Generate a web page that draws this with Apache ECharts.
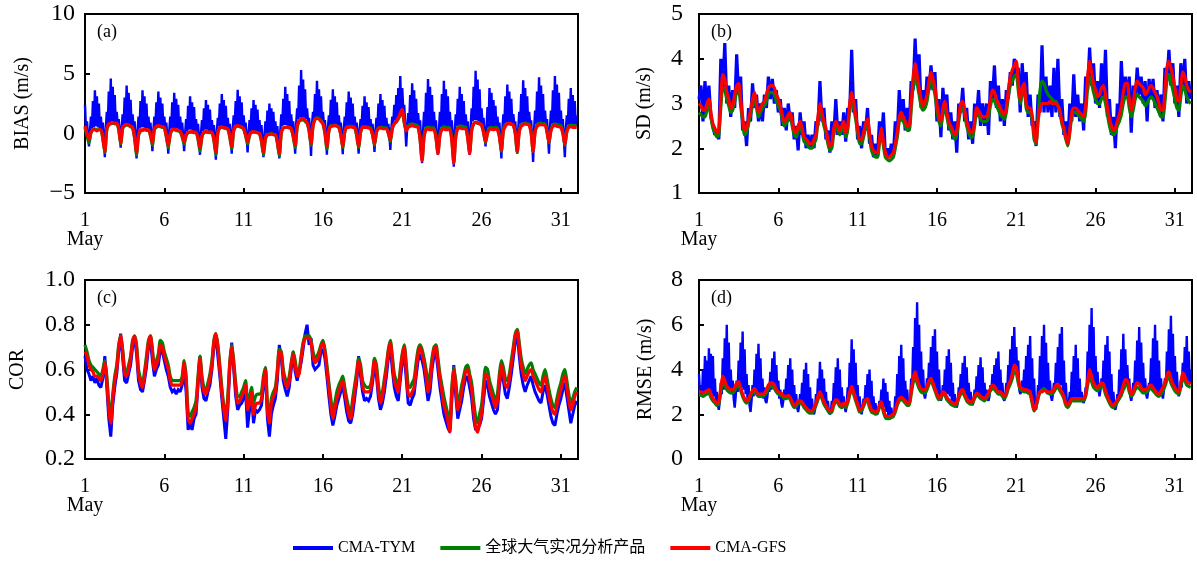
<!DOCTYPE html>
<html>
<head>
<meta charset="utf-8">
<script src="https://cdn.jsdelivr.net/npm/echarts@6/dist/echarts.min.js"></script>
<style>
html, body { margin: 0; padding: 0; background: #fff; }
#chart { width: 1197px; height: 562px; }
</style>
</head>
<body>
<div id="chart"></div>
<script>
// Verification statistics, 1 May 00 UTC .. 1 June 00 UTC.
// Most series: one row per day at 00, 03, ... 21 UTC (8 samples), last value is 1 June 00 UTC.
// CMA-TYM BIAS and RMSE: 1.5-hourly rows (16 samples per day).
const dayTicks = [1, 6, 11, 16, 21, 26, 31];
const seriesNames = ['CMA-TYM', '全球大气实况分析产品', 'CMA-GFS'];
const panelTags = ['(a)', '(b)', '(c)', '(d)'];
const panelNames = ['BIAS (m/s)', 'SD (m/s)', 'COR', 'RMSE (m/s)'];

// (a) BIAS
const biasTym = [
  2.4, 0.3, 1.0, -0.2, -1.1, 0.2, 1.4, 0.4, 2.7, 0.5, 3.6, 0.6, 3.1, 0.5, 2.5, 0.4,
  1.4, 0.3, 0.9, -0.4, -2.0, 0.4, 1.8, 0.8, 3.5, 0.9, 4.6, 1.0, 3.9, 0.9, 3.2, 0.8,
  1.8, 0.7, 1.2, 0.1, -1.2, 0.5, 1.6, 0.7, 3.0, 0.8, 4.0, 0.8, 3.4, 0.7, 2.8, 0.6,
  1.6, 0.5, 1.0, -0.4, -2.1, 0.2, 1.4, 0.4, 2.7, 0.5, 3.6, 0.5, 3.1, 0.4, 2.5, 0.4,
  1.4, 0.3, 0.9, -0.2, -1.5, 0.3, 1.4, 0.6, 2.6, 0.7, 3.5, 0.7, 3.0, 0.6, 2.5, 0.5,
  1.4, 0.4, 0.9, -0.3, -1.7, 0.2, 1.4, 0.4, 2.6, 0.4, 3.4, 0.4, 2.9, 0.4, 2.4, 0.3,
  1.4, 0.2, 0.9, -0.3, -1.5, 0.0, 1.2, 0.2, 2.3, 0.3, 3.1, 0.3, 2.6, 0.2, 2.2, 0.2,
  1.2, 0.1, 0.8, -0.4, -1.8, 0.0, 1.1, 0.2, 2.1, 0.3, 2.8, 0.3, 2.4, 0.2, 2.0, 0.2,
  1.1, 0.1, 0.7, -0.5, -2.2, 0.2, 1.3, 0.6, 2.5, 0.6, 3.3, 0.6, 2.8, 0.5, 2.3, 0.5,
  1.3, 0.3, 0.8, -0.3, -1.7, 0.4, 1.5, 0.7, 2.7, 0.7, 3.65, 0.7, 3.1, 0.6, 2.6, 0.5,
  1.5, 0.4, 0.9, -0.2, -1.6, 0.0, 1.1, 0.2, 2.1, 0.2, 2.8, 0.2, 2.4, 0.2, 2.0, 0.1,
  1.1, 0.0, 0.7, -0.6, -2.0, -0.2, 1.0, 0.0, 1.9, 0.0, 2.5, 0.0, 2.1, 0.0, 1.8, 0.0,
  1.0, -0.1, 0.6, -0.6, -2.1, 0.2, 1.6, 0.6, 2.9, 0.7, 3.9, 0.7, 3.3, 0.6, 2.7, 0.6,
  1.6, 0.4, 1.0, -0.3, -1.7, 0.8, 2.1, 1.2, 4.0, 1.3, 5.3, 1.3, 4.5, 1.3, 3.7, 1.2,
  2.1, 0.9, 1.3, 0.2, -1.9, 0.8, 1.8, 1.2, 3.3, 1.3, 4.4, 1.3, 3.7, 1.2, 3.1, 1.1,
  1.8, 0.8, 1.1, -0.1, -1.8, 0.4, 1.5, 0.7, 2.8, 0.7, 3.7, 0.7, 3.1, 0.7, 2.6, 0.6,
  1.5, 0.5, 0.9, -0.2, -1.75, 0.3, 1.4, 0.6, 2.6, 0.6, 3.5, 0.6, 3.0, 0.6, 2.5, 0.5,
  1.4, 0.4, 0.9, -0.2, -1.7, 0.3, 1.2, 0.6, 2.3, 0.6, 3.1, 0.6, 2.6, 0.5, 2.2, 0.5,
  1.2, 0.4, 0.8, -0.2, -1.55, 0.2, 1.3, 0.5, 2.5, 0.5, 3.3, 0.5, 2.8, 0.5, 2.3, 0.4,
  1.3, 0.3, 0.8, -0.1, -1.4, 0.4, 1.4, 0.9, 2.4, 1.1, 3.2, 1.3, 3.8, 1.6, 4.8, 1.9,
  3.8, 2.0, 2.4, 0.6, -1.1, 0.5, 1.7, 0.7, 3.2, 0.8, 4.2, 0.8, 3.6, 0.7, 2.9, 0.6,
  1.7, 0.5, 1.1, -0.6, -2.5, 0.2, 1.8, 0.5, 3.4, 0.6, 4.55, 0.6, 3.9, 0.5, 3.2, 0.5,
  1.8, 0.4, 1.1, -0.4, -1.8, 0.2, 1.8, 0.5, 3.3, 0.5, 4.4, 0.5, 3.7, 0.5, 3.1, 0.5,
  1.8, 0.4, 1.1, -0.6, -2.8, 0.2, 1.6, 0.6, 2.9, 0.6, 3.9, 0.6, 3.3, 0.6, 2.7, 0.5,
  1.6, 0.5, 1.0, -0.4, -1.8, 0.5, 2.1, 1.0, 3.9, 1.1, 5.25, 1.1, 4.5, 1.0, 3.7, 0.9,
  2.1, 0.8, 1.3, 0.0, -1.1, 0.4, 2.2, 0.5, 3.8, 0.5, 3.4, 0.4, 2.8, 0.4, 2.3, 0.4,
  1.4, 0.4, 0.9, -0.5, -2.1, 0.3, 1.6, 0.8, 3.1, 0.9, 4.1, 0.9, 3.5, 0.9, 2.9, 0.8,
  1.6, 0.8, 1.0, -0.3, -1.7, 0.3, 1.8, 0.8, 3.3, 0.9, 4.45, 0.9, 3.8, 0.9, 3.1, 0.8,
  1.8, 0.8, 1.1, -0.5, -2.4, 0.3, 1.9, 0.8, 3.5, 0.9, 4.7, 0.9, 4.0, 0.8, 3.3, 0.8,
  1.9, 0.8, 1.2, -0.2, -1.7, 0.4, 1.9, 0.8, 3.6, 0.8, 4.8, 0.8, 4.1, 0.7, 3.4, 0.7,
  1.9, 0.6, 1.2, -0.4, -2.0, 0.3, 1.5, 0.7, 2.9, 0.7, 3.8, 0.7, 3.2, 0.6, 2.7, 0.6,
  1.5
];
const biasAna = [
  0.5, -0.2, -0.8, 0.0, 0.3, 0.35, 0.3, 0.3,
  0.3, -0.5, -1.6, 0.3, 0.7, 0.8, 0.85, 0.8,
  0.8, 0.3, -0.9, 0.4, 0.6, 0.7, 0.65, 0.55,
  0.45, -0.4, -1.8, -0.2, 0.2, 0.25, 0.3, 0.25,
  0.25, -0.2, -1.0, 0.3, 0.5, 0.6, 0.55, 0.5,
  0.45, -0.3, -1.2, -0.1, 0.25, 0.3, 0.25, 0.2,
  0.15, -0.3, -0.9, -0.2, 0.05, 0.1, 0.1, 0.05,
  0.05, -0.5, -1.5, -0.3, 0.05, 0.1, 0.1, 0.05,
  0.05, -0.6, -1.8, 0.0, 0.45, 0.5, 0.45, 0.4,
  0.35, -0.3, -1.3, 0.2, 0.55, 0.6, 0.55, 0.5,
  0.35, -0.2, -0.9, -0.2, 0.1, 0.1, 0.1, 0.05,
  -0.05, -0.7, -1.8, -0.5, -0.1, -0.05, 0.0, -0.1,
  -0.1, -0.8, -1.9, 0.0, 0.45, 0.5, 0.5, 0.45,
  0.4, -0.3, -1.2, 0.5, 1.0, 1.1, 1.15, 1.0,
  0.85, 0.2, -1.0, 0.6, 1.2, 1.3, 1.25, 1.05,
  0.8, 0.0, -1.3, 0.2, 0.65, 0.65, 0.7, 0.65,
  0.55, -0.1, -1.2, 0.1, 0.55, 0.55, 0.6, 0.55,
  0.5, -0.2, -1.2, 0.1, 0.55, 0.55, 0.55, 0.5,
  0.45, -0.1, -1.0, 0.1, 0.45, 0.5, 0.5, 0.45,
  0.45, 0.0, -0.7, 0.4, 0.8, 0.95, 1.2, 1.5,
  1.7, 0.9, 0.2, 0.6, 0.75, 0.8, 0.75, 0.7,
  0.6, -0.5, -2.2, -0.2, 0.45, 0.5, 0.45, 0.45,
  0.45, -0.3, -1.6, -0.1, 0.45, 0.55, 0.5, 0.45,
  0.45, -0.5, -2.4, -0.2, 0.5, 0.6, 0.6, 0.55,
  0.5, -0.3, -1.6, 0.3, 0.8, 0.9, 0.85, 0.8,
  0.7, 0.1, -0.8, 0.1, 0.45, 0.5, 0.45, 0.5,
  0.45, -0.2, -1.5, 0.3, 0.7, 0.8, 0.8, 0.75,
  0.7, 0.0, -1.6, 0.2, 0.7, 0.8, 0.85, 0.8,
  0.75, 0.1, -1.5, 0.2, 0.7, 0.85, 0.85, 0.8,
  0.8, 0.2, -0.8, 0.3, 0.7, 0.8, 0.75, 0.7,
  0.65, 0.1, -1.0, 0.2, 0.6, 0.7, 0.65, 0.65,
  0.65
];
const biasGfs = [
  0.6, 0.0, -0.5, 0.1, 0.3, 0.3, 0.2, 0.3,
  0.3, -0.4, -1.5, 0.4, 0.8, 0.85, 0.9, 0.85,
  0.85, 0.4, -0.8, 0.5, 0.7, 0.75, 0.7, 0.6,
  0.5, -0.3, -1.6, -0.1, 0.3, 0.3, 0.35, 0.3,
  0.3, -0.1, -0.8, 0.4, 0.6, 0.65, 0.6, 0.55,
  0.5, -0.2, -1.0, 0.0, 0.3, 0.35, 0.3, 0.25,
  0.2, -0.2, -0.7, -0.1, 0.1, 0.1, 0.15, 0.1,
  0.1, -0.4, -1.2, -0.2, 0.1, 0.15, 0.1, 0.1,
  0.1, -0.5, -1.6, 0.1, 0.5, 0.55, 0.5, 0.45,
  0.4, -0.2, -1.1, 0.3, 0.6, 0.65, 0.6, 0.55,
  0.4, -0.1, -0.7, -0.1, 0.1, 0.15, 0.1, 0.05,
  0.0, -0.6, -1.6, -0.4, -0.1, -0.1, -0.05, -0.1,
  -0.1, -0.7, -1.7, 0.1, 0.45, 0.5, 0.55, 0.5,
  0.4, -0.2, -1.0, 0.6, 1.1, 1.2, 1.25, 1.1,
  0.9, 0.3, -0.85, 0.6, 1.15, 1.25, 1.2, 1.0,
  0.8, 0.1, -1.1, 0.2, 0.6, 0.6, 0.65, 0.6,
  0.5, -0.1, -1.1, 0.1, 0.5, 0.5, 0.55, 0.5,
  0.5, -0.1, -1.1, 0.1, 0.5, 0.5, 0.5, 0.45,
  0.4, -0.1, -0.85, 0.1, 0.4, 0.45, 0.4, 0.4,
  0.4, 0.0, -0.55, 0.4, 0.8, 1.0, 1.3, 1.7,
  2.0, 1.0, 0.2, 0.5, 0.6, 0.65, 0.6, 0.55,
  0.5, -0.5, -2.3, -0.3, 0.3, 0.35, 0.3, 0.3,
  0.3, -0.4, -1.7, -0.2, 0.3, 0.35, 0.3, 0.3,
  0.3, -0.6, -2.5, -0.3, 0.4, 0.45, 0.4, 0.4,
  0.4, -0.4, -1.7, 0.2, 0.8, 0.95, 0.9, 0.8,
  0.7, 0.1, -0.7, 0.0, 0.3, 0.35, 0.3, 0.35,
  0.3, -0.3, -1.4, 0.2, 0.6, 0.8, 0.85, 0.8,
  0.7, 0.0, -1.5, 0.1, 0.6, 0.7, 0.8, 0.75,
  0.7, 0.0, -1.5, 0.1, 0.6, 0.7, 0.75, 0.7,
  0.7, 0.1, -0.7, 0.2, 0.6, 0.65, 0.6, 0.55,
  0.5, 0.0, -0.9, 0.1, 0.5, 0.55, 0.5, 0.5,
  0.5
];

// (b) SD
const sdTym = [
  3.1, 3.4, 2.6, 3.5, 2.9, 3.4, 2.7, 2.5,
  2.3, 2.4, 2.2, 4.0, 3.3, 4.35, 3.0, 3.4,
  2.7, 3.3, 2.9, 4.1, 3.2, 3.6, 2.4, 2.6,
  2.05, 2.9, 2.6, 3.45, 2.9, 3.2, 2.6, 3.0,
  2.6, 3.2, 2.9, 3.6, 3.1, 3.55, 3.0, 3.3,
  2.8, 3.1, 2.5, 2.9, 2.4, 3.0, 2.6, 2.8,
  2.2, 2.5, 1.95, 2.8, 2.3, 2.6, 2.0, 2.3,
  2.0, 2.3, 2.0, 2.6, 2.5, 3.5, 2.6, 2.9,
  2.2, 2.4, 1.9, 2.6, 2.3, 3.1, 2.3, 2.6,
  2.3, 2.8, 2.15, 2.9, 2.8, 4.2, 2.8, 3.1,
  2.2, 2.5, 2.0, 2.6, 2.4, 2.9, 2.1, 2.3,
  1.8, 2.1, 1.8, 2.6, 2.2, 2.8, 1.85, 2.0,
  1.8, 2.1, 1.8, 2.6, 2.3, 3.3, 2.6, 3.1,
  2.4, 2.9, 2.4, 3.5, 3.3, 4.45, 3.4, 4.1,
  2.9, 3.3, 2.9, 3.6, 3.3, 3.85, 3.3, 3.7,
  2.6, 3.1, 2.25, 3.35, 2.8, 3.2, 2.4, 2.8,
  2.2, 2.6, 1.9, 3.0, 2.8, 3.35, 2.6, 2.9,
  2.2, 2.6, 2.1, 3.0, 2.7, 3.3, 2.5, 3.0,
  2.5, 3.0, 2.3, 3.5, 3.1, 3.85, 2.9, 3.4,
  2.6, 3.1, 2.5, 3.3, 3.1, 3.7, 3.4, 4.0,
  3.6, 3.8, 2.8, 3.9, 3.2, 3.7, 2.7, 3.2,
  2.5, 2.6, 2.05, 3.2, 2.8, 4.3, 2.8, 3.6,
  2.8, 3.4, 2.7, 3.8, 2.8, 4.0, 2.7, 3.1,
  2.3, 2.6, 2.1, 3.0, 2.6, 3.65, 2.7, 3.2,
  2.6, 3.0, 2.4, 3.6, 3.3, 4.25, 3.4, 3.9,
  3.0, 3.5, 2.9, 3.9, 3.1, 4.2, 2.7, 3.1,
  2.3, 2.7, 2.0, 3.0, 2.6, 3.95, 3.0, 3.6,
  3.1, 3.6, 2.35, 3.4, 3.1, 3.8, 3.2, 3.6,
  3.0, 3.5, 2.6, 3.55, 3.1, 3.55, 2.9, 3.3,
  2.8, 3.2, 2.6, 3.8, 3.5, 4.2, 3.4, 3.9,
  3.0, 3.4, 2.7, 3.9, 3.3, 4.0, 3.0, 3.5,
  3.1
];
const sdAna = [
  2.8, 2.75, 2.7, 2.7, 2.85, 2.95, 2.7, 2.45,
  2.35, 2.25, 2.3, 2.9, 3.35, 3.3, 3.1, 2.95,
  2.8, 2.85, 3.05, 3.25, 3.3, 2.95, 2.6, 2.3,
  2.35, 2.55, 2.75, 2.95, 3.1, 2.9, 2.7, 2.8,
  2.9, 2.95, 3.05, 3.2, 3.25, 3.25, 3.2, 3.05,
  2.95, 2.85, 2.65, 2.5, 2.55, 2.65, 2.7, 2.5,
  2.3, 2.25, 2.4, 2.5, 2.35, 2.15, 2.1, 2.05,
  2.0, 2.0, 2.1, 2.2, 2.6, 2.85, 2.7, 2.5,
  2.35, 2.1, 1.95, 2.0, 2.35, 2.5, 2.4, 2.3,
  2.4, 2.5, 2.25, 2.4, 2.85, 3.1, 2.9, 2.65,
  2.35, 2.1, 2.1, 2.25, 2.45, 2.55, 2.25, 1.95,
  1.85, 1.8, 1.8, 2.1, 2.35, 2.05, 1.8, 1.75,
  1.72, 1.75, 1.8, 2.0, 2.25, 2.6, 2.7, 2.6,
  2.5, 2.4, 2.4, 2.85, 3.4, 3.65, 3.45, 3.2,
  2.95, 2.85, 2.9, 3.05, 3.35, 3.55, 3.4, 3.2,
  2.85, 2.6, 2.5, 2.75, 2.9, 2.7, 2.5, 2.4,
  2.3, 2.2, 2.3, 2.6, 2.85, 2.9, 2.75, 2.5,
  2.35, 2.25, 2.25, 2.5, 2.75, 2.75, 2.65, 2.6,
  2.6, 2.6, 2.7, 2.95, 3.1, 3.05, 2.95, 2.85,
  2.75, 2.7, 2.65, 2.8, 3.15, 3.4, 3.5, 3.6,
  3.65, 3.3, 3.0, 3.2, 3.3, 2.9, 2.8, 2.8,
  2.65, 2.2, 2.1, 2.7, 3.3, 3.5, 3.45, 3.3,
  3.2, 3.15, 3.1, 3.05, 3.05, 2.95, 2.8, 2.55,
  2.4, 2.2, 2.05, 2.35, 2.7, 2.8, 2.8, 2.75,
  2.7, 2.65, 2.6, 2.8, 3.35, 3.6, 3.45, 3.25,
  3.1, 3.0, 3.0, 3.1, 3.15, 3.0, 2.75, 2.5,
  2.35, 2.3, 2.35, 2.5, 2.6, 2.75, 3.0, 3.15,
  3.15, 2.9, 2.7, 2.85, 3.1, 3.2, 3.15, 3.1,
  3.05, 2.95, 3.0, 3.1, 3.15, 3.1, 3.0, 2.9,
  2.8, 2.7, 2.7, 3.05, 3.5, 3.65, 3.5, 3.3,
  3.1, 2.9, 2.85, 3.15, 3.4, 3.3, 3.15, 3.05,
  3.0
];
const sdGfs = [
  3.0, 2.95, 2.85, 2.85, 3.0, 3.1, 2.8, 2.55,
  2.45, 2.35, 2.4, 3.1, 3.65, 3.55, 3.25, 3.1,
  2.9, 2.95, 3.2, 3.4, 3.45, 3.1, 2.7, 2.4,
  2.45, 2.65, 2.85, 3.1, 3.25, 3.0, 2.8, 2.9,
  3.0, 3.05, 3.2, 3.35, 3.4, 3.4, 3.35, 3.2,
  3.1, 2.95, 2.75, 2.6, 2.65, 2.75, 2.8, 2.6,
  2.4, 2.35, 2.5, 2.6, 2.45, 2.25, 2.2, 2.15,
  2.1, 2.1, 2.2, 2.3, 2.7, 3.0, 2.8, 2.6,
  2.45, 2.2, 2.05, 2.1, 2.45, 2.6, 2.5, 2.4,
  2.5, 2.6, 2.35, 2.5, 3.0, 3.25, 3.05, 2.75,
  2.45, 2.2, 2.2, 2.35, 2.55, 2.65, 2.35, 2.05,
  1.95, 1.9, 1.9, 2.2, 2.45, 2.15, 1.9, 1.8,
  1.8, 1.85, 1.9, 2.1, 2.35, 2.7, 2.8, 2.7,
  2.6, 2.5, 2.5, 3.0, 3.6, 3.9, 3.65, 3.35,
  3.1, 2.95, 3.05, 3.2, 3.5, 3.7, 3.55, 3.35,
  3.0, 2.7, 2.6, 2.9, 3.05, 2.8, 2.6, 2.5,
  2.4, 2.3, 2.4, 2.7, 3.0, 3.05, 2.85, 2.6,
  2.45, 2.35, 2.35, 2.6, 2.9, 2.85, 2.75, 2.7,
  2.7, 2.7, 2.85, 3.1, 3.3, 3.25, 3.1, 3.0,
  2.9, 2.8, 2.75, 2.9, 3.3, 3.6, 3.75, 3.85,
  3.95, 3.5, 3.1, 3.35, 3.45, 3.0, 2.9, 2.9,
  2.75, 2.3, 2.15, 2.6, 2.9, 3.0, 3.0, 3.0,
  3.0, 3.05, 3.0, 3.0, 3.0, 2.95, 2.85, 2.6,
  2.45, 2.25, 2.1, 2.4, 2.8, 2.9, 2.9, 2.85,
  2.8, 2.75, 2.7, 2.95, 3.6, 3.95, 3.7, 3.45,
  3.3, 3.15, 3.2, 3.35, 3.4, 3.2, 2.9, 2.65,
  2.5, 2.4, 2.45, 2.6, 2.75, 2.95, 3.25, 3.45,
  3.45, 3.1, 2.85, 3.0, 3.35, 3.5, 3.45, 3.4,
  3.35, 3.2, 3.25, 3.35, 3.4, 3.35, 3.25, 3.15,
  3.0, 2.85, 2.85, 3.3, 3.8, 3.95, 3.8, 3.6,
  3.35, 3.1, 3.05, 3.4, 3.7, 3.6, 3.4, 3.3,
  3.25
];

// (c) COR
const corTym = [
  0.66, 0.6, 0.58, 0.55, 0.57, 0.54, 0.56, 0.53,
  0.52, 0.56, 0.66, 0.52, 0.38, 0.3, 0.44, 0.52,
  0.58, 0.68, 0.76, 0.65, 0.55, 0.54, 0.58, 0.62,
  0.7, 0.74, 0.67, 0.55, 0.51, 0.5, 0.55, 0.61,
  0.7, 0.73, 0.64, 0.57, 0.6, 0.62, 0.69, 0.68,
  0.64, 0.6, 0.57, 0.52, 0.5, 0.51, 0.49, 0.51,
  0.5, 0.53, 0.6, 0.5, 0.33, 0.36, 0.33, 0.38,
  0.4, 0.53, 0.66, 0.52, 0.47, 0.46, 0.5, 0.53,
  0.6, 0.7, 0.75, 0.66, 0.57, 0.47, 0.38, 0.29,
  0.42, 0.6, 0.72, 0.6, 0.48, 0.42, 0.44, 0.45,
  0.47, 0.5, 0.34, 0.42, 0.48, 0.36, 0.42, 0.41,
  0.42, 0.44, 0.52, 0.6, 0.38, 0.3, 0.4, 0.44,
  0.47, 0.55, 0.71, 0.65, 0.55, 0.51, 0.48, 0.52,
  0.6, 0.68, 0.59, 0.55, 0.55, 0.63, 0.69, 0.76,
  0.8, 0.71, 0.74, 0.62, 0.6, 0.61, 0.62, 0.68,
  0.69, 0.65, 0.57, 0.48, 0.4, 0.35, 0.39, 0.44,
  0.47, 0.5, 0.53, 0.47, 0.41, 0.37, 0.36, 0.4,
  0.47, 0.54, 0.66, 0.57, 0.5, 0.46, 0.47, 0.46,
  0.48, 0.54, 0.61, 0.57, 0.47, 0.42, 0.45, 0.5,
  0.57, 0.65, 0.7, 0.6, 0.52, 0.48, 0.46, 0.55,
  0.63, 0.67, 0.56, 0.45, 0.44, 0.47, 0.49, 0.57,
  0.64, 0.67, 0.64, 0.6, 0.53, 0.46, 0.5, 0.6,
  0.66, 0.68, 0.6, 0.52, 0.46, 0.4, 0.37, 0.34,
  0.32, 0.46, 0.62, 0.48, 0.38, 0.42, 0.46, 0.52,
  0.56, 0.57, 0.52, 0.47, 0.38, 0.33, 0.34, 0.35,
  0.38, 0.46, 0.55, 0.53, 0.48, 0.45, 0.42, 0.4,
  0.42, 0.52, 0.6, 0.55, 0.49, 0.47, 0.52, 0.58,
  0.65, 0.72, 0.76, 0.66, 0.58, 0.53, 0.5, 0.53,
  0.55, 0.57, 0.53, 0.5, 0.48, 0.46, 0.45, 0.5,
  0.53, 0.49, 0.44, 0.39, 0.36, 0.35, 0.4, 0.44,
  0.47, 0.51, 0.54, 0.48, 0.42, 0.36, 0.4, 0.44,
  0.46
];
const corAna = [
  0.71, 0.68, 0.64, 0.62, 0.61, 0.6, 0.59, 0.58,
  0.57, 0.6, 0.64, 0.57, 0.45, 0.4, 0.49, 0.57,
  0.62, 0.71, 0.75, 0.69, 0.6, 0.59, 0.62, 0.66,
  0.73, 0.75, 0.71, 0.6, 0.56, 0.54, 0.59, 0.66,
  0.73, 0.75, 0.69, 0.62, 0.64, 0.67, 0.73, 0.72,
  0.68, 0.65, 0.62, 0.57, 0.55, 0.55, 0.55, 0.55,
  0.55, 0.57, 0.64, 0.57, 0.41, 0.39, 0.41, 0.43,
  0.46, 0.57, 0.66, 0.57, 0.52, 0.51, 0.54, 0.58,
  0.64, 0.73, 0.76, 0.71, 0.62, 0.52, 0.44, 0.4,
  0.48, 0.63, 0.71, 0.64, 0.54, 0.48, 0.48, 0.5,
  0.52, 0.55, 0.46, 0.48, 0.52, 0.45, 0.48, 0.49,
  0.49, 0.5, 0.57, 0.61, 0.45, 0.4, 0.47, 0.5,
  0.52, 0.6, 0.69, 0.68, 0.6, 0.56, 0.54, 0.57,
  0.63, 0.68, 0.64, 0.59, 0.6, 0.66, 0.72, 0.75,
  0.75, 0.75, 0.73, 0.68, 0.65, 0.66, 0.68, 0.71,
  0.73, 0.69, 0.62, 0.54, 0.47, 0.41, 0.45, 0.5,
  0.53, 0.55, 0.57, 0.52, 0.47, 0.43, 0.41, 0.47,
  0.53, 0.59, 0.65, 0.62, 0.55, 0.53, 0.52, 0.52,
  0.53, 0.58, 0.65, 0.62, 0.53, 0.48, 0.5, 0.56,
  0.62, 0.69, 0.73, 0.66, 0.58, 0.55, 0.53, 0.6,
  0.67, 0.71, 0.63, 0.53, 0.52, 0.54, 0.56, 0.63,
  0.69, 0.71, 0.69, 0.65, 0.6, 0.54, 0.58, 0.65,
  0.7, 0.71, 0.65, 0.58, 0.53, 0.48, 0.44, 0.4,
  0.36, 0.52, 0.61, 0.55, 0.46, 0.48, 0.53, 0.57,
  0.61, 0.62, 0.58, 0.54, 0.46, 0.39, 0.36, 0.4,
  0.44, 0.53, 0.61, 0.6, 0.55, 0.52, 0.49, 0.46,
  0.49, 0.58, 0.64, 0.61, 0.56, 0.55, 0.58, 0.64,
  0.7, 0.76, 0.78, 0.72, 0.65, 0.61, 0.58, 0.6,
  0.62, 0.63, 0.6, 0.58, 0.56, 0.54, 0.53, 0.57,
  0.6, 0.56, 0.51, 0.47, 0.44, 0.43, 0.47, 0.51,
  0.54, 0.58, 0.6, 0.55, 0.49, 0.45, 0.47, 0.5,
  0.52
];
const corGfs = [
  0.68, 0.66, 0.62, 0.6, 0.59, 0.57, 0.57, 0.56,
  0.55, 0.58, 0.63, 0.55, 0.42, 0.36, 0.47, 0.55,
  0.6, 0.7, 0.75, 0.68, 0.58, 0.57, 0.6, 0.65,
  0.72, 0.75, 0.7, 0.58, 0.54, 0.52, 0.57, 0.64,
  0.72, 0.75, 0.68, 0.6, 0.62, 0.65, 0.71, 0.7,
  0.66, 0.63, 0.6, 0.55, 0.53, 0.53, 0.53, 0.53,
  0.53, 0.55, 0.63, 0.55, 0.38, 0.36, 0.38, 0.4,
  0.43, 0.55, 0.65, 0.55, 0.5, 0.49, 0.52, 0.56,
  0.62, 0.72, 0.76, 0.7, 0.6, 0.5, 0.42, 0.37,
  0.45, 0.62, 0.7, 0.62, 0.52, 0.45, 0.46, 0.48,
  0.5, 0.53, 0.42, 0.45, 0.5, 0.4, 0.44, 0.45,
  0.45, 0.47, 0.55, 0.6, 0.42, 0.36, 0.45, 0.48,
  0.5, 0.58, 0.68, 0.67, 0.58, 0.54, 0.52, 0.55,
  0.62, 0.67, 0.62, 0.57, 0.58, 0.65, 0.71, 0.74,
  0.74, 0.74, 0.72, 0.66, 0.63, 0.64, 0.66, 0.7,
  0.72, 0.68, 0.6, 0.52, 0.44, 0.38, 0.42, 0.47,
  0.5, 0.53, 0.55, 0.5, 0.45, 0.4, 0.38, 0.44,
  0.5, 0.57, 0.64, 0.6, 0.53, 0.5, 0.5, 0.5,
  0.51, 0.57, 0.64, 0.6, 0.5, 0.45, 0.48, 0.54,
  0.6, 0.68, 0.72, 0.64, 0.55, 0.52, 0.5, 0.58,
  0.66, 0.7, 0.6, 0.49, 0.48, 0.5, 0.52, 0.6,
  0.67, 0.7, 0.67, 0.63, 0.57, 0.5, 0.54, 0.63,
  0.69, 0.7, 0.63, 0.56, 0.5, 0.44, 0.41, 0.37,
  0.32, 0.5, 0.6, 0.52, 0.42, 0.45, 0.5, 0.55,
  0.59, 0.6, 0.56, 0.51, 0.42, 0.34, 0.32, 0.36,
  0.4, 0.5, 0.58, 0.57, 0.52, 0.49, 0.46, 0.43,
  0.46, 0.55, 0.62, 0.58, 0.53, 0.52, 0.56, 0.62,
  0.68, 0.75, 0.77, 0.7, 0.62, 0.58, 0.55, 0.57,
  0.59, 0.6, 0.57, 0.55, 0.53, 0.51, 0.5, 0.54,
  0.57, 0.53, 0.48, 0.44, 0.41, 0.4, 0.44, 0.48,
  0.51, 0.55, 0.57, 0.52, 0.46, 0.42, 0.44, 0.48,
  0.5
];

// (d) RMSE
const rmseTym = [
  3.8, 2.9, 3.3, 2.8, 4.0, 2.9, 4.6, 3.0, 4.4, 2.9, 4.95, 3.0, 4.7, 2.9, 4.6, 2.8,
  3.6, 2.6, 3.0, 2.4, 2.2, 2.6, 3.4, 2.9, 4.5, 3.1, 5.4, 3.2, 6.0, 3.2, 5.2, 3.1,
  4.0, 2.9, 3.5, 2.7, 2.3, 2.8, 3.5, 3.0, 4.4, 3.1, 5.2, 3.2, 5.7, 3.1, 4.9, 2.9,
  3.8, 2.6, 3.3, 2.4, 2.1, 2.6, 3.3, 2.8, 4.0, 2.9, 4.7, 3.0, 5.15, 2.9, 4.5, 2.8,
  3.6, 2.7, 3.2, 2.6, 2.5, 2.8, 3.3, 3.0, 3.9, 3.1, 4.5, 3.2, 4.8, 3.1, 4.2, 2.9,
  3.5, 2.7, 3.1, 2.5, 2.3, 2.6, 3.1, 2.7, 3.6, 2.8, 4.2, 2.8, 4.5, 2.7, 4.0, 2.5,
  3.3, 2.3, 2.9, 2.3, 2.1, 2.4, 2.9, 2.5, 3.4, 2.4, 4.0, 2.3, 4.3, 2.2, 3.8, 2.1,
  3.2, 2.1, 2.7, 2.1, 2.0, 2.2, 2.9, 2.5, 3.6, 2.8, 4.35, 2.9, 4.0, 2.7, 3.6, 2.5,
  3.0, 2.3, 2.6, 2.1, 2.0, 2.1, 2.6, 2.3, 3.4, 2.5, 4.1, 2.6, 4.5, 2.5, 4.0, 2.4,
  3.2, 2.4, 2.8, 2.3, 2.1, 2.4, 3.2, 2.7, 4.3, 3.0, 5.35, 3.1, 4.9, 2.9, 4.3, 2.6,
  3.3, 2.3, 2.8, 2.2, 2.0, 2.3, 2.7, 2.5, 3.3, 2.6, 3.8, 2.6, 4.0, 2.4, 3.5, 2.2,
  2.8, 2.1, 2.5, 2.1, 2.0, 2.2, 2.6, 2.4, 3.1, 2.5, 3.6, 2.3, 3.4, 2.1, 3.0, 1.9,
  2.6, 1.9, 2.3, 1.9, 1.9, 2.1, 2.8, 2.4, 3.8, 2.6, 4.6, 2.7, 5.1, 2.7, 4.5, 2.6,
  3.5, 2.6, 3.1, 2.4, 2.4, 2.6, 3.6, 3.2, 5.0, 3.5, 6.3, 3.6, 7.0, 3.4, 6.0, 3.2,
  4.8, 3.0, 4.0, 2.9, 2.7, 3.0, 3.6, 3.2, 4.3, 3.4, 5.0, 3.4, 5.5, 3.3, 5.8, 3.0,
  4.8, 2.9, 4.0, 2.8, 2.6, 2.8, 3.3, 2.9, 4.0, 2.9, 4.6, 2.9, 4.9, 2.8, 4.3, 2.6,
  3.4, 2.5, 2.9, 2.4, 2.3, 2.5, 3.2, 2.9, 3.8, 3.0, 4.3, 3.0, 4.6, 2.8, 4.1, 2.7,
  3.4, 2.6, 3.0, 2.5, 2.4, 2.6, 3.1, 2.8, 3.7, 2.9, 4.2, 2.9, 4.55, 2.8, 4.1, 2.7,
  3.4, 2.7, 3.1, 2.7, 2.6, 2.8, 3.3, 3.1, 3.8, 3.2, 4.2, 3.2, 4.5, 3.1, 4.8, 3.0,
  4.0, 2.9, 3.4, 2.7, 2.6, 2.8, 3.4, 3.1, 4.2, 3.3, 4.9, 3.5, 5.5, 3.8, 5.9, 4.0,
  5.0, 3.6, 4.4, 3.1, 2.9, 3.0, 3.5, 3.1, 4.0, 3.1, 4.6, 3.1, 5.1, 3.0, 5.5, 2.9,
  4.5, 2.6, 3.6, 2.3, 2.2, 2.5, 3.3, 3.0, 4.6, 3.1, 5.5, 3.1, 6.0, 3.0, 5.2, 2.9,
  4.3, 2.9, 3.5, 2.8, 2.6, 2.9, 3.4, 3.1, 4.3, 3.2, 5.0, 3.3, 5.6, 3.3, 5.9, 3.0,
  4.4, 2.8, 3.4, 2.5, 2.3, 2.5, 3.0, 2.6, 3.9, 2.7, 4.6, 2.7, 5.1, 2.7, 4.5, 2.6,
  3.6, 2.6, 3.0, 2.6, 2.5, 2.7, 3.2, 3.0, 4.8, 3.5, 6.0, 3.6, 6.75, 3.5, 5.9, 3.3,
  4.6, 3.2, 3.9, 3.1, 2.8, 3.1, 3.6, 3.2, 4.4, 3.1, 5.1, 2.9, 5.5, 2.7, 4.8, 2.5,
  3.8, 2.4, 3.0, 2.3, 2.2, 2.4, 2.9, 2.6, 4.0, 2.8, 4.9, 3.0, 5.6, 3.1, 4.9, 3.3,
  4.2, 3.2, 3.6, 2.8, 2.6, 2.9, 3.4, 3.1, 4.4, 3.3, 5.3, 3.3, 5.9, 3.2, 5.2, 3.1,
  4.3, 3.0, 3.6, 2.9, 2.7, 3.0, 3.4, 3.2, 4.5, 3.2, 5.4, 3.1, 6.0, 3.0, 5.3, 2.9,
  4.4, 2.9, 3.6, 2.9, 2.7, 3.1, 3.6, 3.3, 4.8, 3.6, 5.8, 3.7, 6.4, 3.5, 5.6, 3.3,
  4.6, 3.1, 3.9, 3.0, 2.8, 3.0, 3.5, 3.2, 4.3, 3.5, 5.0, 3.6, 5.5, 3.5, 4.8, 3.4,
  4.0
];
const rmseAna = [
  2.85, 2.85, 2.8, 2.85, 2.9, 2.95, 2.75, 2.6,
  2.5, 2.4, 2.45, 3.0, 3.4, 3.3, 3.1, 3.0,
  2.95, 2.95, 3.05, 3.25, 3.3, 3.05, 2.8, 2.6,
  2.5, 2.6, 2.8, 2.95, 3.0, 2.9, 2.8, 2.8,
  2.8, 2.85, 2.95, 3.15, 3.25, 3.25, 3.15, 3.0,
  2.9, 2.85, 2.8, 2.7, 2.7, 2.75, 2.65, 2.45,
  2.3, 2.35, 2.5, 2.5, 2.45, 2.3, 2.2, 2.1,
  2.05, 2.05, 2.2, 2.4, 2.65, 2.85, 2.7, 2.45,
  2.3, 2.15, 2.05, 2.1, 2.4, 2.55, 2.5, 2.35,
  2.3, 2.4, 2.3, 2.5, 2.85, 3.1, 2.9, 2.6,
  2.35, 2.1, 2.15, 2.35, 2.55, 2.6, 2.3, 2.1,
  2.05, 2.0, 2.05, 2.3, 2.45, 2.1, 1.85, 1.8,
  1.8, 1.85, 1.9, 2.1, 2.4, 2.6, 2.65, 2.6,
  2.5, 2.4, 2.4, 2.9, 3.4, 3.65, 3.4, 3.15,
  3.0, 2.95, 2.95, 3.1, 3.35, 3.5, 3.3, 3.05,
  2.8, 2.65, 2.7, 2.9, 2.85, 2.65, 2.55, 2.45,
  2.4, 2.35, 2.45, 2.7, 2.9, 2.95, 2.8, 2.6,
  2.5, 2.45, 2.5, 2.7, 2.85, 2.8, 2.7, 2.65,
  2.6, 2.7, 2.85, 3.05, 3.15, 3.1, 3.0, 2.9,
  2.9, 2.8, 2.7, 2.85, 3.15, 3.35, 3.6, 3.9,
  3.85, 3.4, 3.1, 3.05, 3.0, 3.0, 2.95, 2.9,
  2.5, 2.15, 2.35, 2.7, 3.0, 3.1, 3.15, 3.05,
  2.95, 2.9, 2.9, 3.0, 3.15, 3.2, 3.05, 2.9,
  2.7, 2.4, 2.3, 2.45, 2.6, 2.6, 2.6, 2.6,
  2.6, 2.6, 2.6, 2.8, 3.3, 3.7, 3.45, 3.2,
  3.1, 3.05, 3.15, 3.25, 3.2, 2.9, 2.7, 2.5,
  2.35, 2.3, 2.4, 2.55, 2.7, 2.85, 3.1, 3.3,
  3.3, 3.0, 2.8, 2.9, 3.1, 3.2, 3.15, 3.05,
  2.95, 2.95, 3.0, 3.1, 3.15, 3.05, 2.95, 2.85,
  2.8, 2.9, 3.05, 3.25, 3.55, 3.65, 3.4, 3.2,
  3.05, 2.95, 2.9, 3.25, 3.6, 3.5, 3.3, 3.25,
  3.2
];
const rmseGfs = [
  3.0, 3.0, 2.95, 3.0, 3.05, 3.1, 2.9, 2.7,
  2.6, 2.5, 2.55, 3.2, 3.7, 3.5, 3.25, 3.15,
  3.1, 3.1, 3.2, 3.4, 3.45, 3.2, 2.9, 2.7,
  2.6, 2.7, 2.9, 3.05, 3.15, 3.0, 2.9, 2.9,
  2.9, 2.95, 3.1, 3.3, 3.4, 3.4, 3.3, 3.1,
  3.0, 2.95, 2.9, 2.8, 2.8, 2.85, 2.75, 2.55,
  2.4, 2.45, 2.6, 2.6, 2.55, 2.4, 2.3, 2.2,
  2.15, 2.15, 2.3, 2.5, 2.8, 3.0, 2.8, 2.55,
  2.4, 2.25, 2.15, 2.2, 2.5, 2.65, 2.6, 2.45,
  2.4, 2.5, 2.4, 2.6, 3.0, 3.25, 3.0, 2.7,
  2.45, 2.2, 2.25, 2.45, 2.65, 2.7, 2.4, 2.2,
  2.15, 2.1, 2.15, 2.4, 2.55, 2.2, 1.95, 1.9,
  1.9, 1.95, 2.0, 2.2, 2.5, 2.7, 2.75, 2.7,
  2.6, 2.5, 2.5, 3.0, 3.6, 3.9, 3.6, 3.3,
  3.15, 3.1, 3.1, 3.25, 3.5, 3.6, 3.4, 3.15,
  2.9, 2.75, 2.8, 3.0, 2.95, 2.75, 2.65, 2.55,
  2.5, 2.45, 2.55, 2.8, 3.05, 3.1, 2.9, 2.7,
  2.6, 2.55, 2.6, 2.8, 2.95, 2.9, 2.8, 2.75,
  2.7, 2.8, 2.95, 3.15, 3.3, 3.25, 3.1, 3.0,
  3.0, 2.9, 2.8, 2.95, 3.3, 3.5, 3.8, 4.2,
  4.1, 3.6, 3.2, 3.15, 3.1, 3.1, 3.05, 3.0,
  2.6, 2.2, 2.4, 2.75, 3.0, 3.0, 3.05, 3.05,
  3.0, 3.0, 3.0, 3.1, 3.3, 3.35, 3.2, 3.0,
  2.8, 2.5, 2.4, 2.55, 2.7, 2.7, 2.7, 2.7,
  2.7, 2.7, 2.7, 2.9, 3.5, 4.0, 3.7, 3.4,
  3.25, 3.2, 3.3, 3.4, 3.35, 3.05, 2.8, 2.6,
  2.45, 2.4, 2.5, 2.65, 2.8, 3.0, 3.3, 3.55,
  3.5, 3.2, 2.9, 3.0, 3.25, 3.4, 3.35, 3.2,
  3.1, 3.1, 3.15, 3.25, 3.3, 3.2, 3.05, 2.95,
  2.9, 3.05, 3.2, 3.4, 3.75, 3.9, 3.6, 3.35,
  3.2, 3.05, 3.0, 3.4, 3.85, 3.7, 3.45, 3.4,
  3.35
];

// per panel: [CMA-TYM, analysis, CMA-GFS] arrays and their samples per day
const panelData = [
  [biasTym, biasAna, biasGfs],
  [sdTym, sdAna, sdGfs],
  [corTym, corAna, corGfs],
  [rmseTym, rmseAna, rmseGfs]
];
const panelRates = [
  [16, 8, 8],
  [8, 8, 8],
  [8, 8, 8],
  [16, 8, 8]
];

const SERIF = '"Liberation Serif", "Times New Roman", serif';
const LEGEND_FONT = '"Liberation Serif", "Noto Sans CJK SC", serif';
const colors = ['#0000ff', '#008000', '#ff0000'];
// stroke widths per panel: [CMA-TYM, analysis, CMA-GFS]
const panelWidths = [
  [2.4, 3.2, 3.2],
  [3.2, 3.2, 3.2],
  [3.0, 3.2, 3.2],
  [2.4, 3.2, 3.2]
];

// plot boxes of the four panels
const boxes = [
  { left: 85, top: 14 },
  { left: 699, top: 14 },
  { left: 85, top: 280 },
  { left: 699, top: 280 }
];
const minusSign = v => String(v).replace('-', '\u2212');
const yRanges = [
  { min: -5, max: 10, interval: 5, gap: 52, margin: 10, fmt: minusSign },
  { min: 1, max: 5, interval: 1, gap: 44, margin: 16, fmt: minusSign },
  { min: 0.2, max: 1.0, interval: 0.2, gap: 57, margin: 10, fmt: v => v.toFixed(1) },
  { min: 0, max: 8, interval: 2, gap: 43, margin: 16, fmt: minusSign }
];

// sample index -> time in days of May
const toPairs = (arr, perDay) => arr.map((v, i) => [1 + i / perDay, v]);

const black = { color: '#000', width: 2 };

const option = {
  animation: false,
  backgroundColor: '#fff',
  title: boxes.map((b, i) => ({
    text: panelTags[i],
    left: b.left + 12,
    top: b.top + 9,
    padding: 0,
    textStyle: { fontFamily: SERIF, fontSize: 18, fontWeight: 'normal', color: '#000' }
  })),
  legend: {
    data: seriesNames,
    left: 288,
    top: 535,
    icon: 'rect',
    itemWidth: 40,
    itemHeight: 4,
    itemGap: 25,
    textStyle: { fontFamily: LEGEND_FONT, fontSize: 16, color: '#000' }
  },
  grid: boxes.map(b => ({
    left: b.left, top: b.top, width: 493, height: 179,
    show: true, borderColor: '#000', borderWidth: 2, backgroundColor: 'transparent'
  })),
  xAxis: boxes.map((b, i) => ({
    type: 'value',
    gridIndex: i,
    min: 1,
    max: 32.08,
    axisLine: { show: true, onZero: false, lineStyle: black },
    axisTick: { show: true, inside: true, length: 5, customValues: dayTicks, lineStyle: black },
    axisLabel: {
      customValues: dayTicks,
      formatter: v => (v === 1 ? '1\nMay' : String(v)),
      color: '#000', fontFamily: SERIF, fontSize: 20, lineHeight: 19, margin: 18
    },
    splitLine: { show: false }
  })),
  yAxis: yRanges.map((r, i) => ({
    type: 'value',
    gridIndex: i,
    min: r.min,
    max: r.max,
    interval: r.interval,
    name: panelNames[i],
    nameLocation: 'middle',
    nameGap: r.gap,
    nameTextStyle: { fontFamily: SERIF, fontSize: 20, color: '#000' },
    axisLine: { show: true, onZero: false, lineStyle: black },
    axisTick: { show: true, inside: true, length: 5, lineStyle: black },
    axisLabel: { color: '#000', fontFamily: SERIF, fontSize: 24, margin: r.margin, formatter: r.fmt },
    splitLine: { show: false }
  })),
  series: []
};

panelData.forEach((group, p) => {
  group.forEach((arr, k) => {
    option.series.push({
      name: seriesNames[k],
      type: 'line',
      xAxisIndex: p,
      yAxisIndex: p,
      data: toPairs(arr, panelRates[p][k]),
      showSymbol: false,
      symbol: 'none',
      smooth: k === 0 ? false : 0.25,
      color: colors[k],
      lineStyle: { color: colors[k], width: panelWidths[p][k], join: 'miter', miterLimit: 2 },
      z: 2 + k,
      silent: true
    });
  });
});

const chart = echarts.init(document.getElementById('chart'), null, { renderer: 'canvas' });
chart.setOption(option);
</script>
</body>
</html>
